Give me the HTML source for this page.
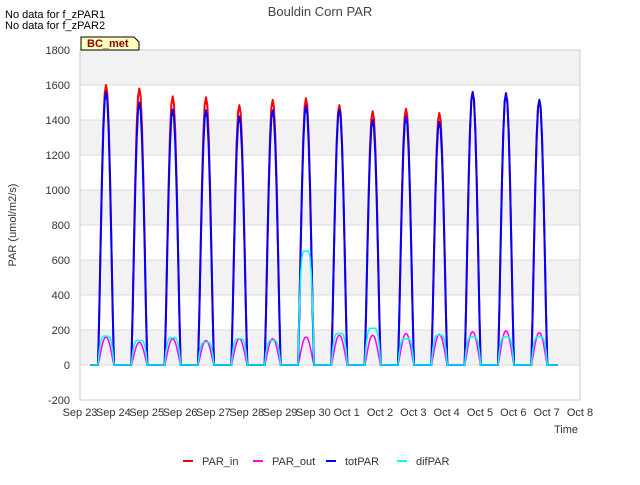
<!DOCTYPE html>
<html><head><meta charset="utf-8">
<style>
body{margin:0;background:#fff;font-family:"Liberation Sans",sans-serif;}
svg text{font-family:"Liberation Sans",sans-serif;}
</style></head>
<body>
<svg width="640" height="480" id="c">
<rect x="0" y="0" width="640" height="480" fill="#fff"/>
<text x="320" y="16" text-anchor="middle" font-size="13" fill="#444">Bouldin Corn PAR</text>
<text x="5" y="18" font-size="11" fill="#000">No data for f_zPAR1</text>
<text x="5" y="29" font-size="11" fill="#000">No data for f_zPAR2</text>
<g id="plot"></g>
<g>
<path d="M81,50 L81,37 L134,37 L139,42 L139,50 Z" fill="#ffffc0" stroke="#000"/>
<text x="87" y="47" font-size="11" font-weight="bold" fill="#8b0000">BC_met</text>
</g>
<text x="16" y="225" font-size="11" fill="#333" transform="rotate(-90 16 225)" text-anchor="middle">PAR (umol/m2/s)</text>
<text x="578" y="433" font-size="11" fill="#333" text-anchor="end">Time</text>
<g id="legend"></g>
</svg>
<script>
const days=["Sep 23","Sep 24","Sep 25","Sep 26","Sep 27","Sep 28","Sep 29","Sep 30","Oct 1","Oct 2","Oct 3","Oct 4","Oct 5","Oct 6","Oct 7","Oct 8"];
const yTicks=[-200,0,200,400,600,800,1000,1200,1400,1600,1800];
const parInPeaks=[1600,1580,1535,1530,1485,1515,1525,1485,1450,1465,1440,1560,1555,1515];
const totParPeaks=[1560,1500,1460,1455,1420,1455,1480,1460,1400,1420,1390,1560,1550,1515];
const parOutPeaks=[160,130,150,140,150,150,160,170,170,180,175,190,195,185];
const difParPeaks=[165,140,155,130,150,140,650,180,210,150,170,160,160,160];
const dayProfile=[0,0.2,0.45,0.68,0.86,0.97,1,0.97,0.86,0.68,0.45,0.2,0];
const diffProfile=[0,0.5,0.8,0.95,1,1,1,1,1,0.95,0.8,0.5,0];
const X0=80,X1=580,Y0=400,Y1=50;
const xs=d=>X0+(X1-X0)*d/15;
const ys=v=>Y0-(Y0-Y1)*(v+200)/2000;
const ns="http://www.w3.org/2000/svg";
const plot=document.getElementById('plot');
function mk(t,a,p){const e=document.createElementNS(ns,t);for(const k in a)e.setAttribute(k,a[k]);(p||plot).appendChild(e);return e;}
// background bands
for(let i=0;i<yTicks.length-1;i++){
 const r=mk('rect',{x:X0,y:ys(yTicks[i+1]),width:X1-X0,height:ys(yTicks[i])-ys(yTicks[i+1]),fill:i%2==0?'#ffffff':'#f2f2f2'});
 
 
}
yTicks.forEach(v=>{
 const l=mk('line',{x1:X0,x2:X1,y1:ys(v),y2:ys(v),stroke:'#dcdcdc'});
 
 
 const t=mk('text',{x:X0-10,y:ys(v)+4,'text-anchor':'end','font-size':11,fill:'#333'});
 t.textContent=v;
 
 
});
days.forEach((d,i)=>{
 const t=mk('text',{x:xs(i),y:416,'text-anchor':'middle','font-size':11,fill:'#333'});
 t.textContent=d;
 
 
});
mk('rect',{x:X0,y:Y1,width:X1-X0,height:Y0-Y1,fill:'none',stroke:'#ccc'});
function series(peaks,prof,color,w,name){
 let pts=[[xs(0.3),ys(0)]];
 peaks.forEach((p,i)=>{
  const start=i+0.54,end=i+1.02;
  pts.push([xs(start-0.02),ys(0)]);
  prof.forEach((f,k)=>{pts.push([xs(start+(end-start)*k/(prof.length-1)),ys(p*f)]);});
 });
 pts.push([xs(14.33),ys(0)]);
 const pl=mk('polyline',{points:pts.map(p=>p.join(',')).join(' '),fill:'none',stroke:color,'stroke-width':w,'stroke-linejoin':'round'});
 
 
}
series(parInPeaks,dayProfile,'#ff0000',2,'par-in-line');
series(parOutPeaks,dayProfile,'#ff00ff',1.5,'par-out-line');
series(totParPeaks,dayProfile,'#0000ff',2,'totpar-line');
series(difParPeaks,diffProfile,'#00ffff',1.5,'difpar-line');
const leg=document.getElementById('legend');
const names=["PAR_in","PAR_out","totPAR","difPAR"],cols=["#ff0000","#ff00ff","#0000ff","#00ffff"],lx=[183,253,326,397];
names.forEach((n,i)=>{
 const g=mk('g',{},leg);
 
 
 mk('line',{x1:lx[i],x2:lx[i]+10,y1:461,y2:461,stroke:cols[i],'stroke-width':2},g);
 const t=mk('text',{x:lx[i]+19,y:465,'font-size':11,fill:'#333'},g);
 t.textContent=n;
});
</script>
</body></html>
